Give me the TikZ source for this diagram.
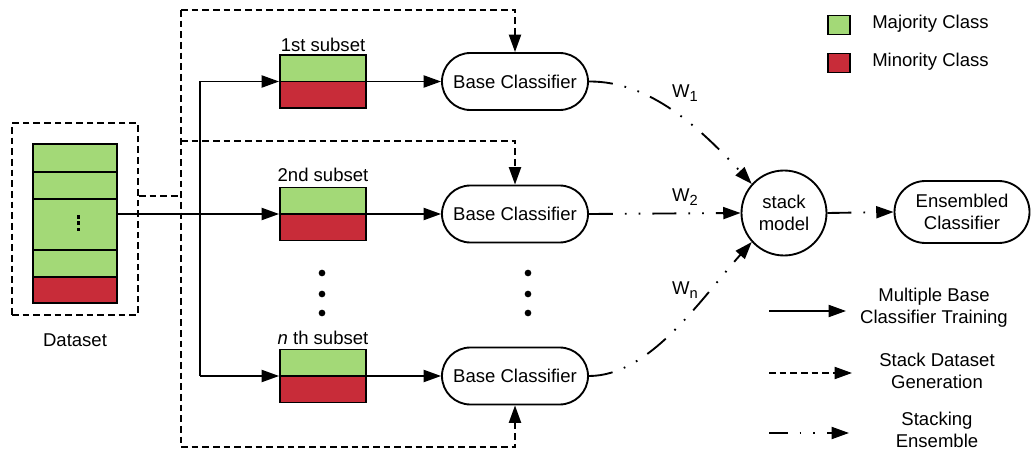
\documentclass[tikz,border=0pt]{standalone}
\usepackage{fontspec}
\setmainfont{Liberation Sans}
\usetikzlibrary{arrows.meta}
\definecolor{majgreen}{RGB}{163,217,119}
\definecolor{minred}{RGB}{200,44,57}
\newcommand{\wsub}[1]{W\raisebox{-0.35ex}{\fontsize{11}{11}\selectfont #1}}
\begin{document}
\begin{tikzpicture}[x=0.75pt, y=-0.75pt, font=\fontsize{13.9}{17}\selectfont,
  lw/.style={line width=1.4pt},
  tip/.style={-{Triangle[length=13pt,width=9pt]}},
  flowline/.style={lw, tip},
  dashline/.style={lw, dash pattern=on 5pt off 3pt},
  dashdotline/.style={lw, dash pattern=on 18pt off 9pt on 1.3pt off 9pt on 1.3pt off 9pt},
  basecls/.style={draw, lw, minimum width=109.5pt, minimum height=42.75pt, rounded corners=21.3pt, inner sep=0pt},
  subsetbox/.style={draw, lw, minimum width=64.5pt, minimum height=39.75pt, inner sep=0pt,
    path picture={\fill[majgreen] (path picture bounding box.north west) rectangle (path picture bounding box.east);
      \fill[minred] (path picture bounding box.west) rectangle (path picture bounding box.south east);
      \draw[lw] (path picture bounding box.west) -- (path picture bounding box.east);}},
  legsq/.style={draw, lw, minimum width=16.5pt, minimum height=14.25pt, inner sep=0pt},
  bigdot/.style={circle, fill=black, minimum size=5pt, inner sep=0pt},
  txt/.style={align=center, inner sep=0pt}
]
\useasboundingbox (0,0) rectangle (1033,452);

% dataset
\fill[majgreen] (33,144) rectangle (117,277);
\fill[minred] (33,277) rectangle (117,303);
\draw[lw] (33,172) -- (117,172) (33,199) -- (117,199) (33,250) -- (117,250) (33,277) -- (117,277);
\node[draw, lw, minimum width=63pt, minimum height=119.25pt, inner sep=0pt] (ds) at (75,223.5) {};
\fill (76.5,215.5) rectangle (79.5,219);
\fill (76.5,221.5) rectangle (79.5,225);
\fill (76.5,228) rectangle (79.5,231.5);
\node[draw, dashline, minimum width=94.5pt, minimum height=144pt, inner sep=0pt] (dsbox) at (75,219) {};
\node[txt] (dslabel) at (75,340) {Dataset};

% subsets
\node[subsetbox] (s1) at (323,81.5) {};
\node[subsetbox] (s2) at (323,214) {};
\node[subsetbox] (sn) at (323,376) {};
\node[txt] (l1) at (323,45) {1st subset};
\node[txt] (l2) at (323,175) {2nd subset};
\node[txt] (ln) at (323,338) {\textit{n} th subset};

% base classifiers
\node[basecls] (b1) at (515,81.5) {Base Classifier};
\node[basecls] (b2) at (515,214) {Base Classifier};
\node[basecls] (bn) at (515,376) {Base Classifier};

% dots
\foreach \yy in {273,294,313} {
  \node[bigdot] at (322,\yy) {};
  \node[bigdot] at (528,\yy) {};
}

% stack model and ensemble
\node[draw, lw, circle, minimum size=63.75pt, inner sep=0pt, txt, draw] (sm) at (784,213) {stack\\model};
\node[basecls, minimum width=101.25pt, minimum height=46.5pt, rounded corners=23.2pt, align=center] (ens) at (962,212) {Ensembled\\Classifier};

% training flow
\coordinate (bus) at (200,215);
\draw[flowline] (ds.east |- s2.west) -- (s2.west);
\draw[lw] (bus |- s1.west) -- (bus |- sn.west);
\draw[flowline] (bus |- s1.west) -- (s1.west);
\draw[flowline] (bus |- sn.west) -- (sn.west);
\draw[flowline] (s1.east) -- (b1.west);
\draw[flowline] (s2.east) -- (b2.west);
\draw[flowline] (sn.east) -- (bn.west);

% stack dataset generation
\coordinate (dv) at (181,196);
\coordinate (dtop) at (181,10);
\coordinate (dmid) at (181,141);
\coordinate (dbot) at (181,447);
\draw[dashline] (dsbox.east |- dv) -- (dv);
\draw[dashline] (dtop) -- (dbot);
\draw[dashline, tip] (dtop) -- (b1.north |- dtop) -- (b1.north);
\draw[dashline, tip] (dmid) -- (b2.north |- dmid) -- (b2.north);
\draw[dashline, tip] (dbot) -- (bn.south |- dbot) -- (bn.south);

% stacking ensemble
\draw[dashdotline, tip] (b1.east) .. controls (650,81) and (700,128) .. (sm.138);
\draw[dashdotline, tip] (b2.east) -- (sm.west);
\draw[dashdotline, tip] (bn.east) .. controls (650,376) and (700,300) .. (sm.222);
\draw[dashdotline, tip] (sm.east) -- (ens.west);
\node[txt] (w1) at (685,93) {\wsub{1}};
\node[txt] (w2) at (685,197) {\wsub{2}};
\node[txt] (wn) at (685,290) {\wsub{n}};

% legend
\node[legsq, fill=majgreen] (leg1) at (839,25) {};
\node[legsq, fill=minred] (leg2) at (839,63) {};
\node[txt, anchor=west] (leg1t) at (872,24) {Majority Class};
\node[txt, anchor=west] (leg2t) at (872,62) {Minority Class};

\coordinate (la1) at (769,311); \coordinate (lb1) at (846,311);
\coordinate (la2) at (769,373); \coordinate (lb2) at (852,373);
\coordinate (la3) at (769,433); \coordinate (lb3) at (849,433);
\draw[flowline] (la1) -- (lb1);
\draw[dashline, tip] (la2) -- (lb2);
\draw[lw, dash pattern=on 14pt off 9pt on 1.3pt off 9pt on 1.3pt off 9pt, tip] (la3) -- (lb3);
\node[txt, font=\fontsize{13.9}{16.5}\selectfont] (lt1) at (934,308) {Multiple Base\\Classifier Training};
\node[txt, font=\fontsize{13.9}{16.5}\selectfont] (lt2) at (937,371) {Stack Dataset\\Generation};
\node[txt, font=\fontsize{13.9}{16.5}\selectfont] (lt3) at (937,430) {Stacking\\Ensemble};
\end{tikzpicture}
\end{document}
